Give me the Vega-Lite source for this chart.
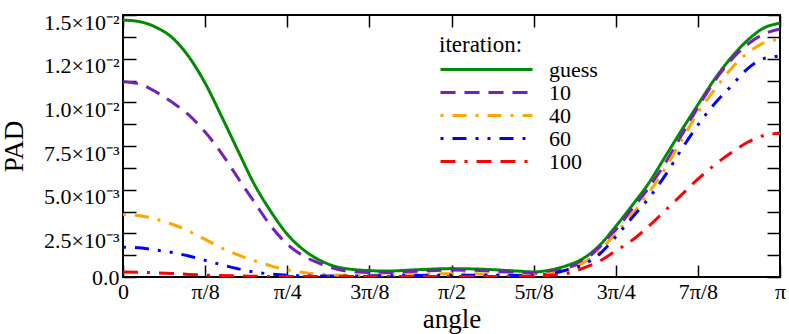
{
  "$schema": "https://vega.github.io/schema/vega-lite/v6.json",
  "width": 657,
  "height": 262,
  "autosize": "none",
  "padding": {"left": 123, "top": 15, "right": 9, "bottom": 57},
  "background": "white",
  "config": {
    "view": {"stroke": "black", "strokeWidth": 2},
    "font": "Liberation Serif, Times New Roman, serif",
    "axis": {"grid": false, "domain": false, "tickColor": "black", "tickWidth": 1.5, "labelColor": "black", "titleColor": "black", "labelFont": "Liberation Serif, Times New Roman, serif", "titleFont": "Liberation Serif, Times New Roman, serif", "titleFontWeight": "normal", "labelOverlap": false, "labelBound": false},
    "legend": {"labelFont": "Liberation Serif, Times New Roman, serif", "titleFont": "Liberation Serif, Times New Roman, serif"}
  },
  "data": {"values": [
    {"a":0,"v":0.01471,"it":"guess"},{"a":0.0785,"v":0.01462,"it":"guess"},{"a":0.1571,"v":0.0143,"it":"guess"},{"a":0.2356,"v":0.0137,"it":"guess"},{"a":0.3142,"v":0.01262,"it":"guess"},{"a":0.3927,"v":0.0111,"it":"guess"},{"a":0.4712,"v":0.0092,"it":"guess"},{"a":0.5498,"v":0.00723,"it":"guess"},{"a":0.6283,"v":0.0053,"it":"guess"},{"a":0.7069,"v":0.00375,"it":"guess"},{"a":0.7854,"v":0.00245,"it":"guess"},{"a":0.8639,"v":0.00155,"it":"guess"},{"a":0.9425,"v":0.00095,"it":"guess"},{"a":1.0996,"v":0.00043,"it":"guess"},{"a":1.2566,"v":0.00034,"it":"guess"},{"a":1.4137,"v":0.00042,"it":"guess"},{"a":1.5708,"v":0.00048,"it":"guess"},{"a":1.7279,"v":0.00044,"it":"guess"},{"a":1.885,"v":0.00034,"it":"guess"},{"a":1.9635,"v":0.00029,"it":"guess"},{"a":2.042,"v":0.0004,"it":"guess"},{"a":2.1206,"v":0.00065,"it":"guess"},{"a":2.1991,"v":0.00105,"it":"guess"},{"a":2.2777,"v":0.0018,"it":"guess"},{"a":2.3562,"v":0.0029,"it":"guess"},{"a":2.4347,"v":0.0041,"it":"guess"},{"a":2.5133,"v":0.00536,"it":"guess"},{"a":2.5918,"v":0.00687,"it":"guess"},{"a":2.6704,"v":0.00839,"it":"guess"},{"a":2.7489,"v":0.00986,"it":"guess"},{"a":2.8274,"v":0.0113,"it":"guess"},{"a":2.906,"v":0.01253,"it":"guess"},{"a":2.9845,"v":0.01353,"it":"guess"},{"a":3.0631,"v":0.01425,"it":"guess"},{"a":3.1416,"v":0.01453,"it":"guess"},
    {"a":0,"v":0.01118,"it":"10"},{"a":0.0785,"v":0.01105,"it":"10"},{"a":0.1571,"v":0.0106,"it":"10"},{"a":0.2356,"v":0.01,"it":"10"},{"a":0.3142,"v":0.00928,"it":"10"},{"a":0.3927,"v":0.0083,"it":"10"},{"a":0.4712,"v":0.00708,"it":"10"},{"a":0.5498,"v":0.00567,"it":"10"},{"a":0.6283,"v":0.00428,"it":"10"},{"a":0.7069,"v":0.00292,"it":"10"},{"a":0.7854,"v":0.00188,"it":"10"},{"a":0.8639,"v":0.0012,"it":"10"},{"a":0.9425,"v":0.00077,"it":"10"},{"a":1.0996,"v":0.0003,"it":"10"},{"a":1.2566,"v":0.00024,"it":"10"},{"a":1.4137,"v":0.00033,"it":"10"},{"a":1.5708,"v":0.0004,"it":"10"},{"a":1.7279,"v":0.00036,"it":"10"},{"a":1.885,"v":0.00025,"it":"10"},{"a":1.9635,"v":0.00022,"it":"10"},{"a":2.042,"v":0.00028,"it":"10"},{"a":2.1206,"v":0.0005,"it":"10"},{"a":2.1991,"v":0.0009,"it":"10"},{"a":2.2777,"v":0.0017,"it":"10"},{"a":2.3562,"v":0.0027,"it":"10"},{"a":2.4347,"v":0.0039,"it":"10"},{"a":2.5133,"v":0.0051,"it":"10"},{"a":2.5918,"v":0.0065,"it":"10"},{"a":2.6704,"v":0.0081,"it":"10"},{"a":2.7489,"v":0.0097,"it":"10"},{"a":2.8274,"v":0.0112,"it":"10"},{"a":2.906,"v":0.0124,"it":"10"},{"a":2.9845,"v":0.0133,"it":"10"},{"a":3.0631,"v":0.0139,"it":"10"},{"a":3.1416,"v":0.0142,"it":"10"},
    {"a":0,"v":0.00357,"it":"40"},{"a":0.0785,"v":0.00351,"it":"40"},{"a":0.1571,"v":0.00332,"it":"40"},{"a":0.2356,"v":0.00302,"it":"40"},{"a":0.3142,"v":0.00262,"it":"40"},{"a":0.3927,"v":0.00215,"it":"40"},{"a":0.4712,"v":0.00167,"it":"40"},{"a":0.5498,"v":0.00127,"it":"40"},{"a":0.6283,"v":0.00093,"it":"40"},{"a":0.7069,"v":0.00064,"it":"40"},{"a":0.7854,"v":0.00041,"it":"40"},{"a":0.8639,"v":0.00026,"it":"40"},{"a":0.9425,"v":0.00016,"it":"40"},{"a":1.0996,"v":0.0001,"it":"40"},{"a":1.2566,"v":0.00011,"it":"40"},{"a":1.4137,"v":0.00016,"it":"40"},{"a":1.5708,"v":0.00019,"it":"40"},{"a":1.7279,"v":0.00017,"it":"40"},{"a":1.885,"v":0.00012,"it":"40"},{"a":1.9635,"v":0.00011,"it":"40"},{"a":2.042,"v":0.00018,"it":"40"},{"a":2.1206,"v":0.0004,"it":"40"},{"a":2.1991,"v":0.0008,"it":"40"},{"a":2.2777,"v":0.0015,"it":"40"},{"a":2.3562,"v":0.0025,"it":"40"},{"a":2.4347,"v":0.0036,"it":"40"},{"a":2.5133,"v":0.0048,"it":"40"},{"a":2.5918,"v":0.0062,"it":"40"},{"a":2.6704,"v":0.0078,"it":"40"},{"a":2.7489,"v":0.0094,"it":"40"},{"a":2.8274,"v":0.0107,"it":"40"},{"a":2.906,"v":0.0119,"it":"40"},{"a":2.9845,"v":0.0128,"it":"40"},{"a":3.0631,"v":0.0134,"it":"40"},{"a":3.1416,"v":0.01362,"it":"40"},
    {"a":0,"v":0.00171,"it":"60"},{"a":0.0785,"v":0.00167,"it":"60"},{"a":0.1571,"v":0.00155,"it":"60"},{"a":0.2356,"v":0.0014,"it":"60"},{"a":0.3142,"v":0.0012,"it":"60"},{"a":0.3927,"v":0.00095,"it":"60"},{"a":0.4712,"v":0.0007,"it":"60"},{"a":0.5498,"v":0.00047,"it":"60"},{"a":0.6283,"v":0.00028,"it":"60"},{"a":0.7069,"v":0.00017,"it":"60"},{"a":0.7854,"v":0.0001,"it":"60"},{"a":0.8639,"v":0.00007,"it":"60"},{"a":0.9425,"v":0.00006,"it":"60"},{"a":1.0996,"v":0.00006,"it":"60"},{"a":1.2566,"v":0.00007,"it":"60"},{"a":1.4137,"v":0.00009,"it":"60"},{"a":1.5708,"v":0.0001,"it":"60"},{"a":1.7279,"v":0.0001,"it":"60"},{"a":1.885,"v":0.00009,"it":"60"},{"a":1.9635,"v":0.0001,"it":"60"},{"a":2.042,"v":0.00018,"it":"60"},{"a":2.1206,"v":0.0004,"it":"60"},{"a":2.1991,"v":0.0007,"it":"60"},{"a":2.2777,"v":0.0013,"it":"60"},{"a":2.3562,"v":0.0023,"it":"60"},{"a":2.4347,"v":0.0034,"it":"60"},{"a":2.5133,"v":0.0045,"it":"60"},{"a":2.5918,"v":0.0058,"it":"60"},{"a":2.6704,"v":0.0073,"it":"60"},{"a":2.7489,"v":0.0087,"it":"60"},{"a":2.8274,"v":0.0099,"it":"60"},{"a":2.906,"v":0.0109,"it":"60"},{"a":2.9845,"v":0.0119,"it":"60"},{"a":3.0631,"v":0.0125,"it":"60"},{"a":3.1416,"v":0.01265,"it":"60"},
    {"a":0,"v":0.00029,"it":"100"},{"a":0.0785,"v":0.00027,"it":"100"},{"a":0.1571,"v":0.00024,"it":"100"},{"a":0.2356,"v":0.0002,"it":"100"},{"a":0.3142,"v":0.00015,"it":"100"},{"a":0.3927,"v":0.00011,"it":"100"},{"a":0.4712,"v":0.00008,"it":"100"},{"a":0.5498,"v":0.00006,"it":"100"},{"a":0.6283,"v":0.00004,"it":"100"},{"a":0.7854,"v":0.00003,"it":"100"},{"a":0.9425,"v":0.00003,"it":"100"},{"a":1.0996,"v":0.00003,"it":"100"},{"a":1.2566,"v":0.00003,"it":"100"},{"a":1.4137,"v":0.00003,"it":"100"},{"a":1.5708,"v":0.00003,"it":"100"},{"a":1.7279,"v":0.00003,"it":"100"},{"a":1.885,"v":0.00004,"it":"100"},{"a":1.9635,"v":0.00006,"it":"100"},{"a":2.042,"v":0.0001,"it":"100"},{"a":2.1206,"v":0.0002,"it":"100"},{"a":2.1991,"v":0.0005,"it":"100"},{"a":2.2777,"v":0.0009,"it":"100"},{"a":2.3562,"v":0.0015,"it":"100"},{"a":2.4347,"v":0.0021,"it":"100"},{"a":2.5133,"v":0.0029,"it":"100"},{"a":2.5918,"v":0.0038,"it":"100"},{"a":2.6704,"v":0.0047,"it":"100"},{"a":2.7489,"v":0.0056,"it":"100"},{"a":2.8274,"v":0.0064,"it":"100"},{"a":2.906,"v":0.0071,"it":"100"},{"a":2.9845,"v":0.0077,"it":"100"},{"a":3.0631,"v":0.0081,"it":"100"},{"a":3.1416,"v":0.00823,"it":"100"}
  ]},
  "layer": [
    {
      "mark": {"type": "line", "strokeWidth": 3, "interpolate": "monotone", "clip": true},
      "encoding": {
        "x": {"field": "a", "type": "quantitative",
          "scale": {"domain": [0, 3.1416], "nice": false, "zero": false},
          "axis": {"orient": "bottom", "values": [0, 0.3927, 0.7854, 1.1781, 1.5708, 1.9635, 2.3562, 2.7489, 3.1416],
            "labelExpr": "['0','π/8','π/4','3π/8','π/2','5π/8','3π/4','7π/8','π'][round(datum.value*8/PI)]",
            "tickSize": -12, "labelPadding": 16, "labelFlush": false, "labelFontSize": 22, "labelFont": "Liberation Serif, Times New Roman, serif",
            "title": "angle", "titleFontSize": 27, "titleX": 328.5, "titleY": 50, "titleAlign": "center", "titleBaseline": "alphabetic"}},
        "y": {"field": "v", "type": "quantitative",
          "scale": {"domain": [0, 0.015], "nice": false},
          "axis": {"orient": "left", "values": [0, 0.00125, 0.0025, 0.00375, 0.005, 0.00625, 0.0075, 0.00875, 0.01, 0.01125, 0.0125, 0.01375, 0.015],
            "labelExpr": "['0.0','','2.5×10⁻³','','5.0×10⁻³','','7.5×10⁻³','','1.0×10⁻²','','1.2×10⁻²','','1.5×10⁻²'][round(datum.value/0.00125)]",
            "tickSize": -13, "labelPadding": 17, "labelFontSize": 22, "labelFont": "Liberation Serif, Times New Roman, serif",
            "labelOffset": {"condition": {"test": "datum.value > 0.0001", "value": 7}, "value": 0},
            "title": "PAD", "titleFontSize": 27, "titleX": -109, "titleY": 131, "titleAngle": -90, "titleAlign": "center", "titleBaseline": "middle",
            "encode": {
              "ticks": {"update": {"x2": {"signal": "round(datum.value/0.00125)%2==0 ? 13 : 7"}}}
            }}},
        "color": {"field": "it", "type": "nominal",
          "scale": {"domain": ["guess", "10", "40", "60", "100"], "range": ["#008b00", "#7221bc", "#ffa500", "#0000ff", "#ff0000"]},
          "legend": {"orient": "none", "legendX": 316, "legendY": 19, "padding": 0, "title": "iteration:", "titleFontSize": 23, "titleFontWeight": "normal", "titleColor": "black", "titlePadding": 1, "labelFontSize": 22, "labelColor": "black", "labelOffset": 15, "symbolType": "stroke", "symbolSize": 8464, "symbolStrokeWidth": 3, "clipHeight": 23, "rowPadding": 0, "labelLimit": 0}},
        "strokeDash": {"field": "it", "type": "nominal",
          "scale": {"domain": ["guess", "10", "40", "60", "100"], "range": [[1, 0], [15, 9], [3, 9, 14, 9], [3, 9, 14, 9, 3, 9], [15, 9, 3, 9, 15, 9]]},
          "legend": {"orient": "none", "legendX": 316, "legendY": 19, "padding": 0, "title": "iteration:", "titleFontSize": 23, "titleFontWeight": "normal", "titleColor": "black", "titlePadding": 1, "labelFontSize": 22, "labelColor": "black", "labelOffset": 15, "symbolType": "stroke", "symbolSize": 8464, "symbolStrokeWidth": 3, "clipHeight": 23, "rowPadding": 0, "labelLimit": 0}}
      }
    },
    {
      "mark": {"type": "point", "opacity": 0},
      "encoding": {
        "x": {"field": "a", "type": "quantitative",
          "axis": {"orient": "top", "values": [0, 0.3927, 0.7854, 1.1781, 1.5708, 1.9635, 2.3562, 2.7489, 3.1416], "labels": false, "tickSize": -12, "title": null}},
        "y": {"field": "v", "type": "quantitative",
          "axis": {"orient": "right", "values": [0, 0.00125, 0.0025, 0.00375, 0.005, 0.00625, 0.0075, 0.00875, 0.01, 0.01125, 0.0125, 0.01375, 0.015], "labels": false, "tickSize": -13, "title": null,
            "encode": {"ticks": {"update": {"x2": {"signal": "round(datum.value/0.00125)%2==0 ? -13 : -7"}}}}}}
      }
    }
  ],
  "resolve": {"axis": {"x": "independent", "y": "independent"}}
}
